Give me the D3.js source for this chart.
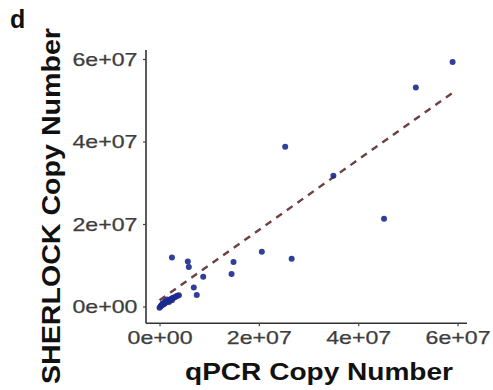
<!DOCTYPE html>
<html>
<head>
<meta charset="utf-8">
<script src="https://cdn.jsdelivr.net/npm/d3@7"></script>
<style>
  html, body { margin: 0; padding: 0; background: #fff; }
  svg { display: block; }
</style>
</head>
<body>
<svg id="chart" width="493" height="390"></svg>
<script>
// ---- Data (copy numbers) ----
const qpcr = [
  5.90e7, 5.16e7, 4.52e7, 2.53e7, 3.50e7, 2.06e7, 2.66e7, 1.49e7, 1.45e7,
  0.25e7, 0.57e7, 0.59e7, 0.88e7, 0.69e7, 0.75e7,
  0.00e7, 0.02e7, 0.03e7, 0.05e7, 0.07e7, 0.09e7, 0.10e7, 0.12e7, 0.14e7,
  0.16e7, 0.18e7, 0.20e7, 0.22e7, 0.24e7, 0.27e7, 0.30e7, 0.33e7, 0.36e7, 0.39e7,
  0.06e7, 0.11e7, 0.15e7, 0.19e7, 0.25e7
];
const sherlock = [
  5.93e7, 5.31e7, 2.13e7, 3.87e7, 3.17e7, 1.33e7, 1.16e7, 1.08e7, 0.79e7,
  1.19e7, 1.09e7, 0.96e7, 0.72e7, 0.46e7, 0.28e7,
  -0.03e7, 0.00e7, 0.02e7, 0.03e7, 0.05e7, 0.06e7, 0.08e7, 0.09e7, 0.11e7,
  0.12e7, 0.14e7, 0.15e7, 0.17e7, 0.19e7, 0.21e7, 0.22e7, 0.24e7, 0.26e7, 0.27e7,
  0.07e7, 0.12e7, 0.17e7, 0.11e7, 0.15e7
];
// linear fit endpoints
const fitX = [0.0, 5.90e7];
const fitY = [0.15e7, 5.18e7];
// tick values / labels
const xTicks = [0, 2e7, 4e7, 6e7];
const xTickLabels = ["0e+00", "2e+07", "4e+07", "6e+07"];
const yTicks = [0, 2e7, 4e7, 6e7];
const yTickLabels = ["0e+00", "2e+07", "4e+07", "6e+07"];
const xTitle = "qPCR Copy Number";
const yTitle = "SHERLOCK Copy Number";
const panelLabel = "d";

(function () {
// ---- Layout ----
const svg = d3.select("#chart");
const pL = 146, pR = 467, pT = 50, pB = 323.3;

const x = d3.scaleLinear().domain([-0.272e7, 6.19e7]).range([pL, pR]);
const y = d3.scaleLinear().domain([-0.407e7, 6.218e7]).range([pB, pT]);

const FONT = "'Liberation Sans', Arial, Helvetica, sans-serif";

// axes lines
svg.append("line").attr("x1", pL).attr("x2", pL).attr("y1", pT).attr("y2", pB)
  .attr("stroke", "#333").attr("stroke-width", 1.6);
svg.append("line").attr("x1", pL).attr("x2", pR).attr("y1", pB).attr("y2", pB)
  .attr("stroke", "#333").attr("stroke-width", 1.6);

// ticks
const xAxis = d3.axisBottom(x).tickValues(xTicks).tickSize(3).tickFormat((d, i) => xTickLabels[i]);
const yAxis = d3.axisLeft(y).tickValues(yTicks).tickSize(3).tickFormat((d, i) => yTickLabels[i]);

const gx = svg.append("g").attr("transform", `translate(0,${pB})`).call(xAxis);
gx.select(".domain").remove();
gx.selectAll(".tick line").attr("stroke", "#444").attr("stroke-width", 1.2);
gx.selectAll(".tick text")
  .attr("y", 21).attr("dy", 0)
  .attr("font-family", FONT).attr("font-size", 18.5).attr("fill", "#3d3d3d")
  .attr("stroke", "#3d3d3d").attr("stroke-width", 0.25)
  .attr("textLength", 65).attr("lengthAdjust", "spacingAndGlyphs");

const gy = svg.append("g").attr("transform", `translate(${pL},0)`).call(yAxis);
gy.select(".domain").remove();
gy.selectAll(".tick line").attr("stroke", "#444").attr("stroke-width", 1.2);
gy.selectAll(".tick text")
  .attr("x", -8.5).attr("dy", "0.35em")
  .attr("font-family", FONT).attr("font-size", 18.5).attr("fill", "#3d3d3d")
  .attr("stroke", "#3d3d3d").attr("stroke-width", 0.25)
  .attr("textLength", 65).attr("lengthAdjust", "spacingAndGlyphs");

// regression dashed line
svg.append("line")
  .attr("x1", x(fitX[0])).attr("y1", y(fitY[0]))
  .attr("x2", x(fitX[1])).attr("y2", y(fitY[1]))
  .attr("stroke", "#6e4040").attr("stroke-width", 2.4)
  .attr("stroke-dasharray", "7,6");

// points
svg.append("g").selectAll("circle")
  .data(qpcr.map((v, i) => [v, sherlock[i]]))
  .join("circle")
  .attr("cx", d => x(d[0])).attr("cy", d => y(d[1]))
  .attr("r", 3)
  .attr("fill", "#1c2a8e").attr("fill-opacity", 0.9);

// axis titles
svg.append("text")
  .attr("x", 185).attr("y", 380)
  .attr("font-family", FONT).attr("font-weight", "bold").attr("font-size", 24)
  .attr("fill", "#111")
  .attr("textLength", 268).attr("lengthAdjust", "spacingAndGlyphs")
  .text(xTitle);

svg.append("text")
  .attr("transform", "translate(60,384) rotate(-90)")
  .attr("x", 0).attr("y", 0)
  .attr("font-family", FONT).attr("font-weight", "bold").attr("font-size", 25.5)
  .attr("fill", "#111")
  .attr("textLength", 356).attr("lengthAdjust", "spacingAndGlyphs")
  .text(yTitle);

// panel label
svg.append("text")
  .attr("x", 10).attr("y", 28)
  .attr("font-family", FONT).attr("font-weight", "bold").attr("font-size", 25)
  .attr("fill", "#111")
  .text(panelLabel);
})();
</script>
</body>
</html>
